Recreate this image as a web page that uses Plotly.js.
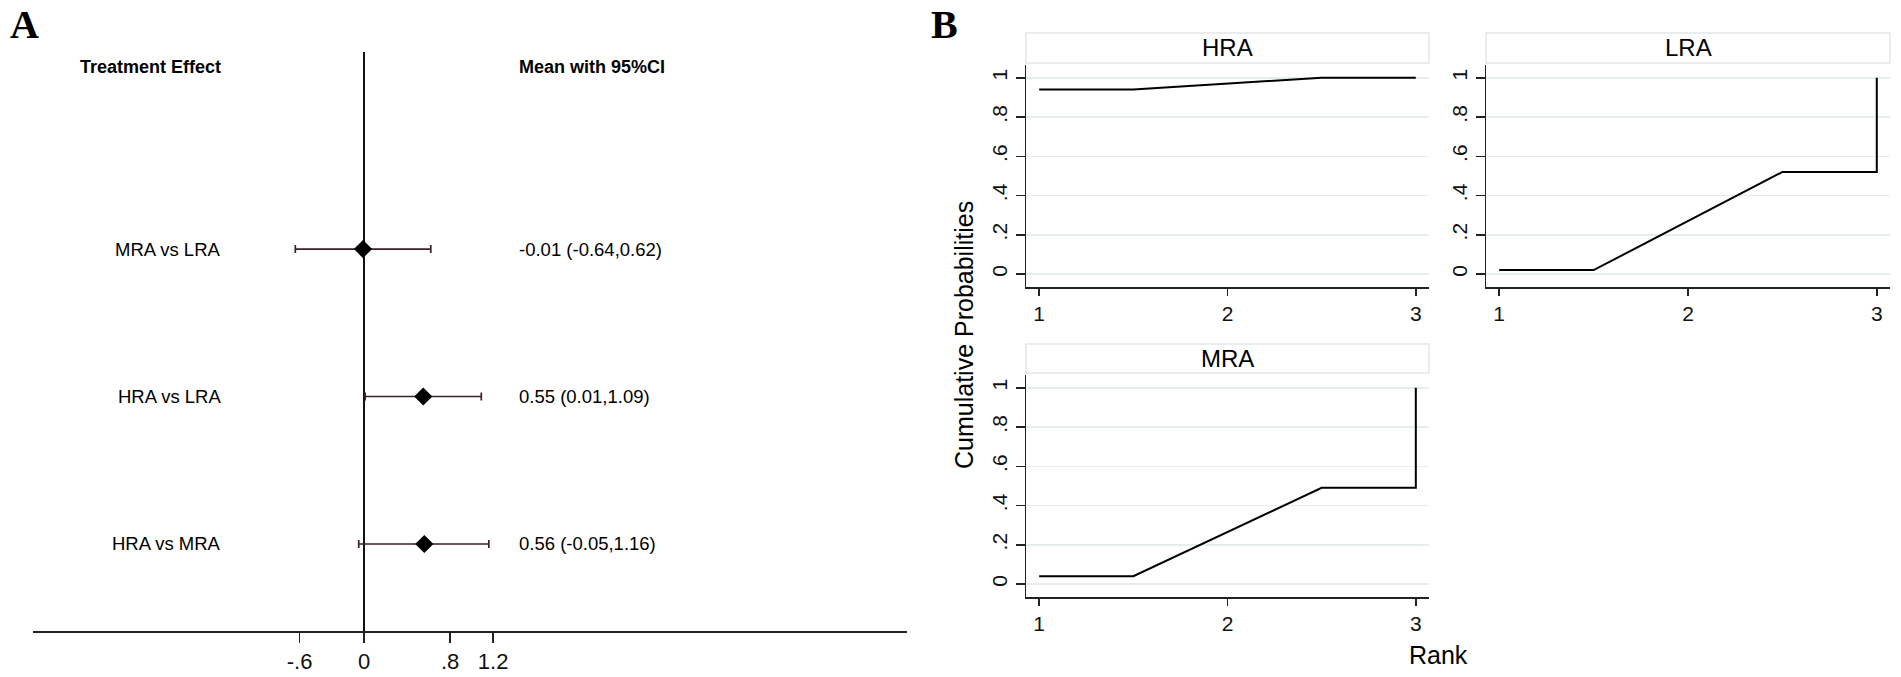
<!DOCTYPE html>
<html>
<head>
<meta charset="utf-8">
<script src="https://cdn.plot.ly/plotly-3.0.1.min.js"></script>
<style>html,body{margin:0;padding:0;background:#fff;}#chart{width:1901px;height:677px;}</style>
</head>
<body>
<div id="chart"></div>
<script>
// ---------- Panel A data (forest plot) ----------
const comparisons = ['MRA vs LRA', 'HRA vs LRA', 'HRA vs MRA'];
const rowPos = [3, 2, 1];
const meanEffect = [-0.01, 0.55, 0.56];
const ciLower = [-0.64, 0.01, -0.05];
const ciUpper = [0.62, 1.09, 1.16];
const forestTickVals = [-0.6, 0, 0.8, 1.2];
const forestTickText = ['-.6', '0', '.8', '1.2'];
const headerLeft = 'Treatment Effect';
const headerRight = 'Mean with 95%CI';

// ---------- Panel B data (cumulative rank probabilities) ----------
const treatments = ['HRA', 'LRA', 'MRA'];
const ranks = [1, 2, 3];
const cumHRA = [0.94, 1.0, 1.0];
const cumLRA = [0.02, 0.52, 1.0];
const cumMRA = [0.04, 0.49, 1.0];
const probTickVals = [0, 0.2, 0.4, 0.6, 0.8, 1];
const probTickText = ['0', '.2', '.4', '.6', '.8', '1'];
const rankTickText = ['1', '2', '3'];

const W = 1901, H = 677;
const px = v => v / W;
const py = v => 1 - v / H;
const SANS = 'Liberation Sans, Arial, sans-serif';
const SERIF = 'Liberation Serif, Times New Roman, serif';

// Stata-like connected shape: flat, ramp, flat, jump at last rank
function stepPath(cum) {
  return {
    x: [ranks[0], ranks[0] + 0.5, ranks[1] + 0.5, ranks[2], ranks[2]],
    y: [cum[0], cum[0], cum[1], cum[1], cum[2]]
  };
}

const traces = [];
traces.push({
  type: 'scatter', mode: 'markers', xaxis: 'x', yaxis: 'y',
  x: meanEffect, y: rowPos,
  marker: {symbol: 'diamond', size: 14, color: '#000'},
  error_x: {
    type: 'data', symmetric: false,
    array: meanEffect.map((m, i) => ciUpper[i] - m),
    arrayminus: meanEffect.map((m, i) => m - ciLower[i]),
    color: '#3a2226', thickness: 1.7, width: 4
  },
  hoverinfo: 'skip', showlegend: false
});

const cumSets = [cumHRA, cumLRA, cumMRA];
const axPairs = [['x2', 'y2'], ['x3', 'y3'], ['x4', 'y4']];
cumSets.forEach((c, i) => {
  const p = stepPath(c);
  traces.push({
    type: 'scatter', mode: 'lines', xaxis: axPairs[i][0], yaxis: axPairs[i][1],
    x: p.x, y: p.y, line: {color: '#000', width: 2},
    hoverinfo: 'skip', showlegend: false
  });
});

const bXaxis = (domain, anchor) => ({
  domain: domain, anchor: anchor, range: [0.93, 3.07],
  tickvals: ranks, ticktext: rankTickText,
  showline: true, linecolor: '#222', linewidth: 1.5,
  ticks: 'outside', ticklen: 7, tickwidth: 1.5, tickcolor: '#222',
  showgrid: false, zeroline: false,
  tickfont: {family: SANS, size: 21, color: '#111'}
});
const bYaxis = (domain, anchor) => ({
  domain: domain, anchor: anchor, range: [-0.066, 1.065],
  tickvals: probTickVals, ticktext: probTickText, tickangle: -90,
  showline: true, linecolor: '#222', linewidth: 1.5,
  ticks: 'outside', ticklen: 9, tickwidth: 1.5, tickcolor: '#222',
  showgrid: true, gridcolor: '#e6eded', gridwidth: 1.5, zeroline: false,
  tickfont: {family: SANS, size: 21, color: '#111'}
});

const topDom = [py(287), py(65)];
const botDom = [py(597), py(375)];
const leftDom = [px(1026), px(1429)];
const rightDom = [px(1486), px(1890)];

const annotations = [];
// panel letters
annotations.push({xref: 'paper', yref: 'paper', x: px(8), y: py(24), xanchor: 'left', yanchor: 'middle',
  text: '<b>A</b>', showarrow: false, font: {family: SERIF, size: 40, color: '#000'}});
annotations.push({xref: 'paper', yref: 'paper', x: px(929), y: py(24), xanchor: 'left', yanchor: 'middle',
  text: '<b>B</b>', showarrow: false, font: {family: SERIF, size: 40, color: '#000'}});
// forest headers
const headerY = 4.234, labelX = -1.316, valueX = 1.419;
annotations.push({xref: 'x', yref: 'y', x: labelX, y: headerY, xanchor: 'right', yanchor: 'middle',
  text: '<b>' + headerLeft + '</b>', showarrow: false, font: {family: SANS, size: 18, color: '#000'}});
annotations.push({xref: 'x', yref: 'y', x: valueX, y: headerY, xanchor: 'left', yanchor: 'middle',
  text: '<b>' + headerRight + '</b>', showarrow: false, font: {family: SANS, size: 18, color: '#000'}});
comparisons.forEach((c, i) => {
  annotations.push({xref: 'x', yref: 'y', x: labelX, y: rowPos[i], xanchor: 'right', yanchor: 'middle',
    text: c, showarrow: false, font: {family: SANS, size: 18.5, color: '#000'}});
  const txt = meanEffect[i].toFixed(2) + ' (' + ciLower[i].toFixed(2) + ',' + ciUpper[i].toFixed(2) + ')';
  annotations.push({xref: 'x', yref: 'y', x: valueX, y: rowPos[i], xanchor: 'left', yanchor: 'middle',
    text: txt, showarrow: false, font: {family: SANS, size: 18.5, color: '#000'}});
});

// strips
const shapes = [];
const strips = [
  {name: treatments[0], x0: 1026, x1: 1429, y0: 33, y1: 63},
  {name: treatments[1], x0: 1486, x1: 1890, y0: 33, y1: 63},
  {name: treatments[2], x0: 1026, x1: 1429, y0: 344, y1: 373}
];
strips.forEach(s => {
  shapes.push({type: 'rect', xref: 'paper', yref: 'paper', x0: px(s.x0), x1: px(s.x1), y0: py(s.y1), y1: py(s.y0),
    line: {color: '#e3e8e8', width: 1.5}, fillcolor: '#ffffff', layer: 'below'});
  annotations.push({xref: 'paper', yref: 'paper', x: px((s.x0 + s.x1) / 2), y: py((s.y0 + s.y1) / 2),
    xanchor: 'center', yanchor: 'middle', text: s.name, showarrow: false,
    font: {family: SANS, size: 24, color: '#000'}});
});
annotations.push({xref: 'paper', yref: 'paper', x: px(964), y: py(335), xanchor: 'center', yanchor: 'middle',
  text: 'Cumulative Probabilities', textangle: -90, showarrow: false, font: {family: SANS, size: 25, color: '#000'}});
annotations.push({xref: 'paper', yref: 'paper', x: px(1438), y: py(655), xanchor: 'center', yanchor: 'middle',
  text: 'Rank', showarrow: false, font: {family: SANS, size: 25, color: '#000'}});

const layout = {
  width: W, height: H, margin: {l: 0, r: 0, t: 0, b: 0},
  paper_bgcolor: '#fff', plot_bgcolor: 'rgba(0,0,0,0)', showlegend: false,
  xaxis: {
    domain: [px(33), px(907)], anchor: 'y', range: [-3.08, 5.05],
    tickvals: forestTickVals, ticktext: forestTickText,
    showline: true, linecolor: '#222', linewidth: 1.5,
    ticks: 'outside', ticklen: 10, tickwidth: 1.5, tickcolor: '#222',
    showgrid: false, zeroline: true, zerolinecolor: '#111', zerolinewidth: 1.5,
    tickfont: {family: SANS, size: 22, color: '#111'}
  },
  yaxis: {
    domain: [py(631), py(52)], anchor: 'x', range: [0.41, 4.336],
    showline: false, showticklabels: false, ticks: '', showgrid: false, zeroline: false
  },
  xaxis2: bXaxis(leftDom, 'y2'), yaxis2: bYaxis(topDom, 'x2'),
  xaxis3: bXaxis(rightDom, 'y3'), yaxis3: bYaxis(topDom, 'x3'),
  xaxis4: bXaxis(leftDom, 'y4'), yaxis4: bYaxis(botDom, 'x4'),
  annotations: annotations, shapes: shapes
};

Plotly.newPlot('chart', traces, layout, {staticPlot: true, displayModeBar: false});
</script>
</body>
</html>
